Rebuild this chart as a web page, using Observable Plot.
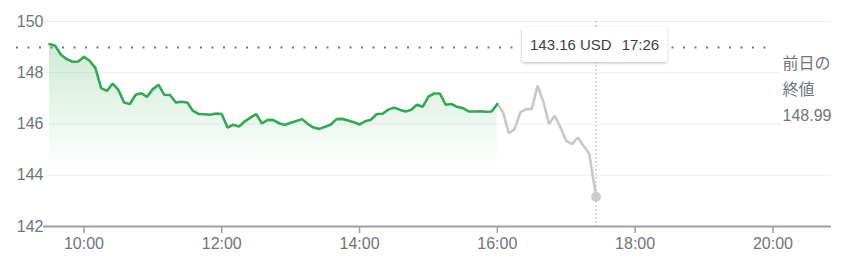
<!DOCTYPE html>
<html>
<head>
<meta charset="utf-8">
<script src="https://cdn.jsdelivr.net/npm/d3@7"></script>
<script src="https://cdn.jsdelivr.net/npm/@observablehq/plot@0.6"></script>
<style>
  html, body { margin: 0; padding: 0; background: #fff; }
  svg { display: block; }
</style>
</head>
<body>
<div id="chart"></div>
<script>
// ---- data ----
const greenTimes = ["09:30","09:35","09:40","09:45","09:50","09:55","10:00","10:05","10:10","10:15","10:20","10:25",
  "10:30","10:35","10:40","10:45","10:50","10:55","11:00","11:05","11:10","11:15","11:20","11:25",
  "11:30","11:35","11:40","11:45","11:50","11:55","12:00","12:05","12:10","12:15","12:20","12:25",
  "12:30","12:35","12:40","12:45","12:50","12:55","13:00","13:05","13:10","13:15","13:20","13:25",
  "13:30","13:35","13:40","13:45","13:50","13:55","14:00","14:05","14:10","14:15","14:20","14:25",
  "14:30","14:35","14:40","14:45","14:50","14:55","15:00","15:05","15:10","15:15","15:20","15:25",
  "15:30","15:35","15:40","15:45","15:50","15:55","16:00"];
const greenPrices = [149.12,149.05,148.70,148.53,148.43,148.44,148.62,148.47,148.18,147.40,147.29,147.58,
  147.33,146.84,146.78,147.14,147.20,147.06,147.36,147.53,147.14,147.13,146.84,146.87,
  146.84,146.51,146.39,146.38,146.36,146.41,146.39,145.86,145.97,145.90,146.10,146.25,
  146.39,146.02,146.16,146.15,146.03,145.96,146.05,146.12,146.19,146.00,145.86,145.81,
  145.89,145.98,146.19,146.20,146.14,146.07,145.98,146.11,146.17,146.39,146.40,146.56,
  146.64,146.56,146.49,146.56,146.75,146.67,147.07,147.19,147.19,146.75,146.78,146.67,
  146.62,146.49,146.49,146.50,146.48,146.49,146.78];
const grayTimes = ["16:00","16:05","16:10","16:15","16:20","16:25","16:30","16:35","16:40","16:45",
  "16:50","16:55","17:00","17:05","17:10","17:15","17:20","17:26"];
const grayPrices = [146.78,146.45,145.64,145.80,146.45,146.58,146.58,147.49,146.88,146.00,
  146.32,145.86,145.34,145.21,145.47,145.15,144.85,143.16];
const yTicks = [142, 144, 146, 148, 150];
const prevClose = 148.99;
const prevCloseLabel = ["前日の", "終値", "148.99"];
const currency = "USD";
const domainTimes = ["09:30", "20:51"];

// ---- build tables ----
const parse = d3.utcParse("%H:%M");
const green = greenTimes.map((t, i) => ({time: parse(t), price: greenPrices[i]}));
const gray = grayTimes.map((t, i) => ({time: parse(t), price: grayPrices[i]}));
const last = gray[gray.length - 1];
const fmtTime = d3.utcFormat("%H:%M");

const NS = "http://www.w3.org/2000/svg";
function el(name, attrs, parent) {
  const e = document.createElementNS(NS, name);
  for (const k in attrs) e.setAttribute(k, attrs[k]);
  if (parent) parent.appendChild(e);
  return e;
}

// gradient + shadow definitions
function defsMark() {
  const g = el("g", {});
  const defs = el("defs", {}, g);
  const lg = el("linearGradient", {id: "areaGrad", x1: "0", y1: "0", x2: "0", y2: "1"}, defs);
  el("stop", {offset: "0", "stop-color": "#34a853", "stop-opacity": "0.24"}, lg);
  el("stop", {offset: "0.68", "stop-color": "#34a853", "stop-opacity": "0"}, lg);
  const f = el("filter", {id: "tipShadow", x: "-20%", y: "-40%", width: "140%", height: "180%"}, defs);
  el("feDropShadow", {dx: "0", dy: "1", stdDeviation: "1.4", "flood-color": "#000", "flood-opacity": "0.28"}, f);
  return g;
}

// tooltip box centred on the last point's time
function tooltipMark(index, scales, values, dims) {
  const g = el("g", {});
  const cx = scales.x(last.time);
  const w = 145, h = 35, top = dims.marginTop + 6;
  el("rect", {x: cx - w / 2 - 1, y: top, width: w, height: h, rx: 3, ry: 3,
    fill: "#fff", filter: "url(#tipShadow)"}, g);
  const t = el("text", {x: cx - 1, y: top + 23.3, "text-anchor": "middle",
    "font-size": 15, fill: "#3c4043",
    "font-family": "Arial, 'Liberation Sans', sans-serif"}, g);
  const a = el("tspan", {}, t); a.textContent = `${last.price.toFixed(2)} ${currency}`;
  const b = el("tspan", {dx: 10}, t); b.textContent = fmtTime(last.time);
  return g;
}

const chart = Plot.plot({
  width: 852,
  height: 261,
  marginLeft: 49,
  marginRight: 21,
  marginTop: 21,
  marginBottom: 35,
  style: {fontFamily: "Arial, 'Liberation Sans', 'Noto Sans CJK JP', sans-serif", background: "#fff"},
  x: {type: "utc", domain: domainTimes.map(parse), label: null},
  y: {domain: [142, 150], label: null},
  marks: [
    defsMark,
    Plot.ruleY(yTicks.filter(d => d === 144 || d === 150), {stroke: "#eeeeee", strokeWidth: 1, insetLeft: -5}),
    Plot.ruleY(yTicks.filter(d => d === 146 || d === 148), {stroke: "#eeeeee", strokeWidth: 1, insetLeft: -5, insetRight: 50}),
    Plot.areaY(green, {x: "time", y1: 142, y2: "price", fill: "url(#areaGrad)"}),
    Plot.ruleY([prevClose], {stroke: "#757575", strokeWidth: 2, strokeDasharray: "2,9.5", insetLeft: -33, insetRight: 58}),
    Plot.ruleX([last], {x: "time", y1: 150, y2: 142, stroke: "#9e9e9e", strokeWidth: 1, strokeDasharray: "1.5,2.5"}),
    Plot.line(gray, {x: "time", y: "price", stroke: "#c8c8c8", strokeWidth: 2.6, strokeLinejoin: "miter"}),
    Plot.line(green, {x: "time", y: "price", stroke: "#34a853", strokeWidth: 2.6, strokeLinejoin: "miter"}),
    Plot.dot([last], {x: "time", y: "price", r: 5, fill: "#cccccc"}),
    Plot.ruleY([142], {stroke: "#9aa0a6", strokeWidth: 2, insetLeft: -6}),
    Plot.axisX({ticks: d3.utcHour.every(2), tickFormat: fmtTime, tickSize: 7, tickPadding: 4, label: null,
      fontSize: 16, stroke: "#9aa0a6", fill: "#70757a", strokeWidth: 1.5}),
    Plot.axisY({ticks: yTicks, tickSize: 0, tickPadding: 6, fontSize: 16, fill: "#70757a", label: null}),
    Plot.text([prevCloseLabel.join("\n")], {frameAnchor: "top-right", dx: -49, dy: 65,
      textAnchor: "start", lineAnchor: "middle", lineHeight: 1.62, fontSize: 16, fill: "#70757a"}),
    tooltipMark
  ]
});
document.getElementById("chart").appendChild(chart);
</script>
</body>
</html>
